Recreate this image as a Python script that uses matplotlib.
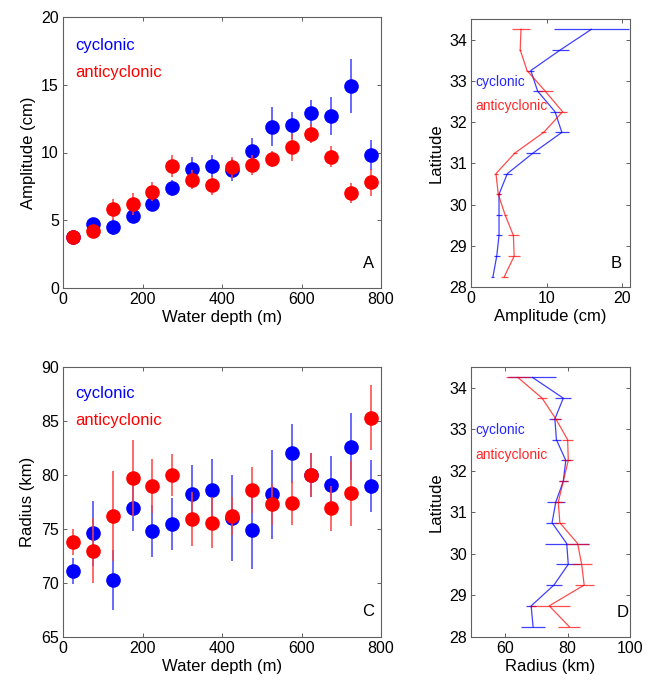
import numpy as np
import matplotlib
matplotlib.use('Agg')
import matplotlib.pyplot as plt

plt.rcParams['font.family'] = ['Liberation Sans', 'DejaVu Sans']

# 水深分组 (m)
depth = [25, 75, 125, 175, 225, 275, 325, 375, 425, 475, 525, 575, 625, 675, 725, 775]
# 纬度分组
lat = [28.25, 28.75, 29.25, 29.75, 30.25, 30.75, 31.25, 31.75, 32.25, 32.75, 33.25, 33.75, 34.25]

# A: 振幅 vs 水深
amp_cyc = [3.8, 4.7, 4.5, 5.3, 6.2, 7.4, 8.8, 9.0, 8.7, 10.1, 11.9, 12.0, 12.9, 12.7, 14.9, 9.8]
amp_cyc_err = [0.2, 0.5, 0.6, 0.3, 0.45, 0.6, 0.9, 0.8, 0.8, 0.95, 1.45, 1.0, 1.0, 1.4, 2.0, 1.1]
amp_anti = [3.8, 4.2, 5.8, 6.2, 7.1, 9.0, 8.0, 7.6, 8.9, 9.1, 9.5, 10.4, 11.4, 9.7, 7.0, 7.8]
amp_anti_err = [0.2, 0.4, 0.75, 0.8, 0.7, 0.8, 0.7, 0.7, 0.8, 0.75, 0.6, 1.0, 0.7, 0.75, 0.75, 1.0]

# B: 振幅 vs 纬度
amp_lat_cyc = [2.9, 3.4, 3.7, 3.7, 3.7, 4.8, 8.2, 12.0, 11.1, 8.8, 7.9, 11.8, 15.9]
amp_lat_cyc_err = [0.2, 0.4, 0.4, 0.35, 0.3, 0.6, 0.9, 0.9, 0.65, 0.65, 0.4, 1.15, 5.0]
amp_lat_anti = [4.4, 5.7, 5.6, 4.5, 3.6, 3.3, 5.8, 9.6, 12.1, 9.8, 7.4, 6.5, 6.6]
amp_lat_anti_err = [0.5, 0.75, 0.75, 0.2, 0.3, 0.2, 0.3, 0.3, 0.55, 1.0, 0.2, 0.15, 1.15]

# C: 半径 vs 水深
rad_cyc = [71.1, 74.6, 70.3, 76.9, 74.8, 75.5, 78.2, 78.6, 76.0, 74.9, 78.2, 82.0, 80.0, 79.1, 82.6, 79.0]
rad_cyc_err = [1.2, 3.0, 2.8, 2.1, 2.4, 2.4, 2.7, 2.9, 4.0, 3.6, 4.1, 2.7, 2.0, 2.7, 3.1, 2.4]
rad_anti = [73.8, 73.0, 76.2, 79.7, 79.0, 80.0, 75.9, 75.6, 76.2, 78.6, 77.3, 77.4, 80.0, 76.9, 78.3, 85.3]
rad_anti_err = [1.2, 3.0, 4.2, 3.5, 2.5, 1.9, 2.5, 2.4, 1.8, 2.1, 1.9, 2.0, 2.0, 2.1, 3.0, 3.0]

# D: 半径 vs 纬度
rad_lat_cyc = [68.9, 68.3, 75.6, 80.2, 79.7, 75.0, 76.2, 78.6, 79.4, 76.4, 75.9, 78.6, 68.7]
rad_lat_cyc_err = [3.8, 1.5, 2.7, 3.8, 7.0, 2.0, 2.8, 1.5, 1.6, 1.5, 2.0, 2.5, 7.7]
rad_lat_anti = [80.5, 74.1, 85.3, 84.5, 83.2, 77.5, 77.0, 78.6, 80.2, 80.0, 76.2, 71.8, 64.0]
rad_lat_anti_err = [3.6, 6.5, 3.1, 3.2, 3.8, 1.7, 1.5, 1.5, 1.6, 1.8, 1.6, 1.6, 3.9]

BLUE = '#0000ff'
RED = '#ff0000'
W, H = 647, 685

fig = plt.figure(figsize=(6.47, 6.85), dpi=100)


def ax_at(l, r, t, b):
    return fig.add_axes([l / W, 1 - b / H, (r - l) / W, (b - t) / H])


def style(ax):
    for s in ax.spines.values():
        s.set_color('#606060')
        s.set_linewidth(0.8)
    ax.tick_params(direction='in', top=True, right=True, labelsize=11.5,
                   color='#606060', length=3, width=0.7, pad=3)


def scatter_panel(ax, cyc, cyc_err, anti, anti_err):
    ax.errorbar(depth, cyc, yerr=cyc_err, fmt='o', color=BLUE, ecolor='#4040ff',
                elinewidth=1.1, markersize=9.5, capsize=0, zorder=3)
    ax.errorbar(depth, anti, yerr=anti_err, fmt='o', color=RED, ecolor='#ff4040',
                elinewidth=1.1, markersize=9.5, capsize=0, zorder=4)
    ax.set_xlim(0, 800)
    ax.set_xticks([0, 200, 400, 600, 800])
    ax.set_xlabel('Water depth (m)', fontsize=12, labelpad=2)


def profile_panel(ax, cyc, cyc_err, anti, anti_err):
    # 无端帽的水平误差棒
    ax.errorbar(cyc, lat, xerr=cyc_err, color=BLUE, lw=0.9, elinewidth=0.9,
                capsize=0, alpha=0.75)
    ax.errorbar(anti, lat, xerr=anti_err, color=RED, lw=0.9, elinewidth=0.9,
                capsize=0, alpha=0.7)
    ax.set_ylim(28, 34.5)
    ax.set_yticks([28, 29, 30, 31, 32, 33, 34])
    ax.set_ylabel('Latitude', fontsize=12, labelpad=4)


# A
axA = ax_at(63, 381, 17, 288)
scatter_panel(axA, amp_cyc, amp_cyc_err, amp_anti, amp_anti_err)
axA.set_ylim(0, 20)
axA.set_yticks([0, 5, 10, 15, 20])
axA.set_ylabel('Amplitude (cm)', fontsize=12, labelpad=4)
axA.text(30, 17.9, 'cyclonic', color=BLUE, fontsize=12, va='center')
axA.text(30, 15.9, 'anticyclonic', color=RED, fontsize=12, va='center')
axA.text(768, 1.8, 'A', fontsize=12, ha='center', va='center')
style(axA)

# B
axB = ax_at(471, 630, 19, 287)
profile_panel(axB, amp_lat_cyc, amp_lat_cyc_err, amp_lat_anti, amp_lat_anti_err)
axB.set_xlim(0, 21)
axB.set_xticks([0, 10, 20])
axB.set_xlabel('Amplitude (cm)', fontsize=12, labelpad=2)
axB.text(0.6, 32.97, 'cyclonic', color=BLUE, fontsize=10, va='center', alpha=0.85)
axB.text(0.6, 32.4, 'anticyclonic', color=RED, fontsize=10, va='center', alpha=0.85)
axB.text(19.2, 28.57, 'B', fontsize=12, ha='center', va='center')
style(axB)

# C
axC = ax_at(63, 381, 367, 637)
scatter_panel(axC, rad_cyc, rad_cyc_err, rad_anti, rad_anti_err)
axC.set_ylim(65, 90)
axC.set_yticks([65, 70, 75, 80, 85, 90])
axC.set_ylabel('Radius (km)', fontsize=12, labelpad=4)
axC.text(30, 87.5, 'cyclonic', color=BLUE, fontsize=12, va='center')
axC.text(30, 85.0, 'anticyclonic', color=RED, fontsize=12, va='center')
axC.text(768, 67.4, 'C', fontsize=12, ha='center', va='center')
style(axC)

# D
axD = ax_at(471, 630, 367, 637)
profile_panel(axD, rad_lat_cyc, rad_lat_cyc_err, rad_lat_anti, rad_lat_anti_err)
axD.set_xlim(49, 100)
axD.set_xticks([60, 80, 100])
axD.set_xlabel('Radius (km)', fontsize=12, labelpad=2)
axD.text(50.3, 32.98, 'cyclonic', color=BLUE, fontsize=10, va='center', alpha=0.85)
axD.text(50.3, 32.38, 'anticyclonic', color=RED, fontsize=10, va='center', alpha=0.85)
axD.text(97.5, 28.6, 'D', fontsize=12, ha='center', va='center')
style(axD)

fig.savefig('out.png', dpi=100)
